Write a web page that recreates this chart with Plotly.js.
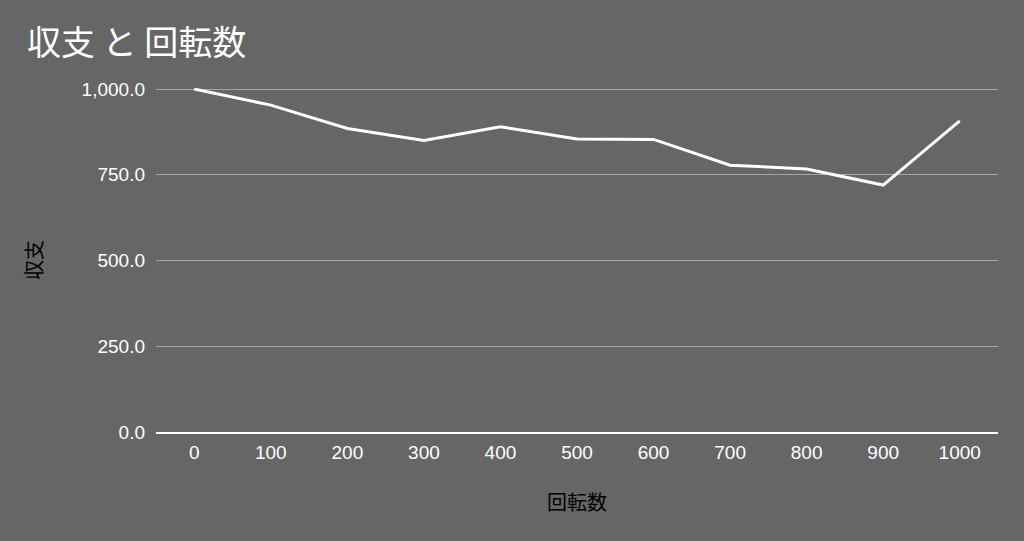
<!DOCTYPE html>
<html>
<head>
<meta charset="utf-8">
<script src="https://cdn.plot.ly/plotly-3.0.1.min.js"></script>
<style>
html,body{margin:0;padding:0;background:#666666;}
#chart{width:1024px;height:541px;}
</style>
</head>
<body>
<div id="chart"></div>
<script>
const categories = ["0","100","200","300","400","500","600","700","800","900","1000"];
const balance = [1000, 953, 885, 850, 890, 854, 853, 778, 767, 720, 907];
const yTicks = [0, 250, 500, 750, 1000];

const trace = {
  x: categories,
  y: balance,
  type: 'scatter',
  mode: 'lines',
  line: {color: '#ffffff', width: 3},
  cliponaxis: false,
  hoverinfo: 'skip'
};

const layout = {
  width: 1024,
  height: 541,
  paper_bgcolor: '#666666',
  plot_bgcolor: '#666666',
  margin: {l: 156, r: 26, t: 88, b: 109},
  showlegend: false,
  title: {
    text: '収支 と 回転数',
    x: 27/1024, xanchor: 'left', xref: 'container',
    y: 1 - 43/541, yanchor: 'middle', yref: 'container',
    font: {family: '"Noto Sans CJK JP", sans-serif', size: 34, color: '#ffffff'}
  },
  xaxis: {
    type: 'category',
    range: [-0.5, 10.5],
    showgrid: false,
    zeroline: false,
    showline: true,
    linecolor: '#ffffff',
    linewidth: 1.5,
    ticks: '',
    ticklen: 0,
    ticklabelstandoff: 3,
    tickfont: {family: '"Liberation Sans", Arial, sans-serif', size: 19, color: '#ffffff'},
    title: {
      text: '回転数',
      font: {family: '"Noto Sans CJK JP", sans-serif', size: 20, color: '#000000'},
      standoff: 33
    }
  },
  yaxis: {
    range: [0, 1003],
    tickvals: yTicks,
    tickformat: ',.1f',
    showgrid: true,
    gridcolor: '#a6a6a6',
    gridwidth: 1,
    zeroline: false,
    showline: false,
    ticks: '',
    ticklabelstandoff: 10,
    tickfont: {family: '"Liberation Sans", Arial, sans-serif', size: 19, color: '#ffffff'},
    title: {
      text: '収支',
      font: {family: '"Noto Sans CJK JP", sans-serif', size: 20, color: '#000000'},
      standoff: 33
    }
  }
};

Plotly.newPlot('chart', [trace], layout, {displayModeBar: false, staticPlot: true});
</script>
</body>
</html>
